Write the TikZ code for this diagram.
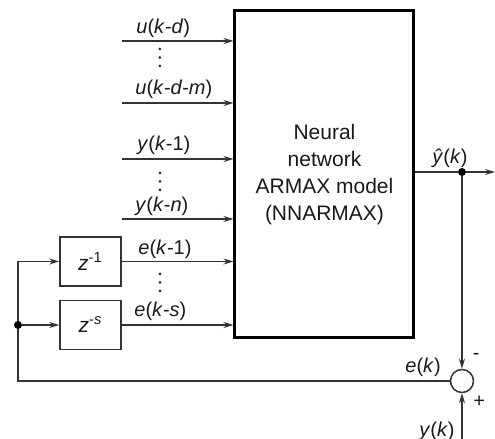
\documentclass[tikz,border=0pt]{standalone}
\usepackage{fontspec}
\setmainfont{Liberation Sans}
\usetikzlibrary{arrows.meta}
\begin{document}
\begin{tikzpicture}[x=0.5pt,y=-0.5pt,
  conn/.style={line width=0.75pt, draw=black!80},
  arr/.style={conn,-{Stealth[length=5pt,width=3pt]}},
  lbl/.style={font=\fontsize{10}{12}\selectfont, anchor=base west, inner sep=0pt, text=black!90},
  delaybox/.style={draw=black!80, line width=0.75pt, minimum width=30.5pt, minimum height=24.5pt, inner sep=0pt, font=\fontsize{10.5}{12}\selectfont, text=black!90},
  vdot/.style={circle, fill=black!85, inner sep=0pt, minimum size=1.5pt},
  junc/.style={circle, fill=black, inner sep=0pt, minimum size=4pt}]
\useasboundingbox (0,0) rectangle (495,439);
% main block
\node[draw=black, line width=1.5pt, minimum width=89.5pt, minimum height=163.5pt, inner sep=0pt,
      align=center, font=\fontsize{10.5}{13.5}\selectfont, text=black!90] (nn) at (324.5,174.5)
      {Neural\\network\\ARMAX model\\(NNARMAX)};
% delay blocks
\node[delaybox] (z1) at (90.5,261.5) {\textit{z}\textsuperscript{-1}};
\node[delaybox] (zs) at (90.5,325) {\textit{z}\textsuperscript{-\textit{s}}};
% inputs
\coordinate (iu1) at (122,41);
\coordinate (ium) at (122,103);
\coordinate (iy1) at (122,159);
\coordinate (iyn) at (122,219);
\draw[arr] (iu1) -- (iu1 -| nn.west);
\draw[arr] (ium) -- (ium -| nn.west);
\draw[arr] (iy1) -- (iy1 -| nn.west);
\draw[arr] (iyn) -- (iyn -| nn.west);
\draw[arr] (z1.east) -- (z1.east -| nn.west);
\draw[arr] (zs.east) -- (zs.east -| nn.west);
% labels
\node[lbl] (lu1) at (136,33) {\textit{u}(\textit{k}-\textit{d})};
\node[lbl] (lum) at (135,95) {\textit{u}(\textit{k}-\textit{d}-\textit{m})};
\node[lbl] (ly1) at (137,151) {\textit{y}(\textit{k}-1)};
\node[lbl] (lyn) at (135,212) {\textit{y}(\textit{k}-\textit{n})};
\node[lbl] (le1) at (138,255) {\textit{e}(\textit{k}-1)};
\node[lbl] (les) at (134,317) {\textit{e}(\textit{k}-\textit{s})};
% vertical dots
\foreach \y [count=\i] in {49,57.5,66} {\node[vdot] (du\i) at (160,\y) {};}
\foreach \y [count=\i] in {173,181.5,190} {\node[vdot] (dy\i) at (160,\y) {};}
\foreach \y [count=\i] in {274,282.5,291} {\node[vdot] (de\i) at (160,\y) {};}
% output
\node[junc] (j1) at (462,172) {};
\coordinate (outend) at (495,172);
\draw[conn] (nn.east |- j1) -- (j1);
\draw[arr] (j1) -- (outend);
\node[lbl] (lyhat) at (432,164) {\textit{ŷ}(\textit{k})};
% summing junction
\node[circle, draw=black!80, line width=0.75pt, minimum size=11.5pt, inner sep=0pt] (sum) at (462,381) {};
\draw[arr] (j1) -- (sum);
\coordinate (yin) at (462,439);
\draw[arr] (yin) -- (sum);
\node[lbl] (minus) at (472.5,360) {-};
\node[lbl] (plus) at (473,408) {+};
\node[lbl, anchor=base east] (lyk) at (455,437) {\textit{y}(\textit{k})};
\node[lbl] (lek) at (405,373) {\textit{e}(\textit{k})};
% feedback
\coordinate (corner) at (18,381);
\node[junc] (j2) at (18,325) {};
\draw[conn] (sum) -- (corner) -- (j2);
\draw[arr] (j2) |- (z1.west);
\draw[arr] (j2) -- (zs.west);
\end{tikzpicture}
\end{document}
